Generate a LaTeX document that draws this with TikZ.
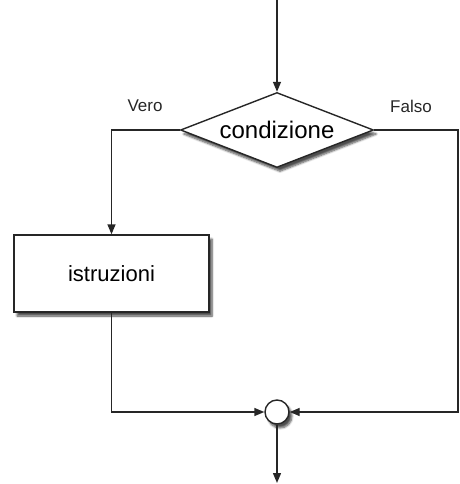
\documentclass[tikz,border=0pt]{standalone}
\usepackage{fontspec}
\setmainfont{Liberation Sans}
\usetikzlibrary{shapes.geometric,arrows.meta,shadows.blur}

\begin{document}
\begin{tikzpicture}[x=1pt,y=-1pt]
                \tikzset{FlowLine/.style={line width=1.4pt, draw=black!85},
                         FlowArrow/.style={FlowLine, -{Triangle[length=10pt,width=8pt]}},
                         ShadowStyle/.style={blur shadow={shadow xshift=3pt, shadow yshift=-4pt, shadow blur steps=6, shadow opacity=70}},
                         DecisionStyle/.style={diamond, draw=black!85, line width=1.4pt, fill=white, inner sep=0pt,
                                               minimum width=193pt, minimum height=75pt, aspect=2.57,
                                               font=\fontsize{24}{28}\selectfont, ShadowStyle},
                         BlockStyle/.style={rectangle, draw=black!85, line width=1.4pt, fill=white,
                                            minimum width=195pt, minimum height=77pt,
                                            font=\fontsize{22}{26}\selectfont, ShadowStyle},
                         JoinStyle/.style={circle, draw=black!85, line width=1.4pt, fill=white, inner sep=0pt,
                                           minimum size=24pt, ShadowStyle},
                         LabelStyle/.style={font=\fontsize{17}{20}\selectfont, text=black!85}}
                \useasboundingbox (0,0) rectangle (459,484);
                \coordinate (Start) at (277,0);
                \node[DecisionStyle] (Cond) at (277,130) {condizione};
                \node[BlockStyle] (Istr) at (111.5,273.5) {istruzioni};
                \node[JoinStyle] (Join) at (277,412) {};
                \coordinate (Right) at (458,130);
                \coordinate (Stop) at (277,483);
                \node[LabelStyle] (Vero) at (145,106) {Vero};
                \node[LabelStyle] (Falso) at (411,106) {Falso};
                \draw[FlowArrow] (Start) -- (Cond.north);
                \draw[FlowArrow] (Cond.west) -| (Istr.north);
                \draw[FlowArrow] (Istr.south) |- (Join.west);
                \draw[FlowArrow] (Cond.east) -- (Right) |- (Join.east);
                \draw[FlowArrow] (Join.south) -- (Stop);
\end{tikzpicture}
\end{document}
